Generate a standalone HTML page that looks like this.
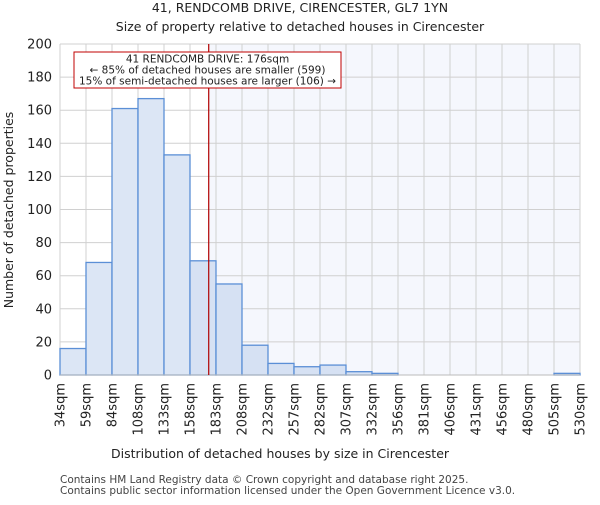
<!DOCTYPE html>
<html><head><meta charset="utf-8"><style>
body{margin:0;background:#fff;font-family:"Liberation Sans","DejaVu Sans",sans-serif;}
svg text{font-family:"DejaVu Sans","Liberation Sans",sans-serif;}
</style></head><body>
<svg id="c" width="600" height="500" xmlns="http://www.w3.org/2000/svg">
<text x="300" y="12" text-anchor="middle" font-size="12.5" fill="#222">41, RENDCOMB DRIVE, CIRENCESTER, GL7 1YN</text>
<text x="300" y="31" text-anchor="middle" font-size="12.5" fill="#222">Size of property relative to detached houses in Cirencester</text>
<g id="plot"></g>
<text x="280" y="458" text-anchor="middle" font-size="12.5" fill="#222">Distribution of detached houses by size in Cirencester</text>
<text transform="translate(13,210) rotate(-90)" text-anchor="middle" font-size="12.5" fill="#222">Number of detached properties</text>
<text x="60" y="483" font-size="10.5" fill="#444">Contains HM Land Registry data © Crown copyright and database right 2025.</text>
<text x="60" y="494" font-size="10.5" fill="#444">Contains public sector information licensed under the Open Government Licence v3.0.</text>
</svg>
<script>
const categories=["34sqm","59sqm","84sqm","108sqm","133sqm","158sqm","183sqm","208sqm","232sqm","257sqm","282sqm","307sqm","332sqm","356sqm","381sqm","406sqm","431sqm","456sqm","480sqm","505sqm","530sqm"];
const counts=[16,68,161,167,133,69,55,18,7,5,6,2,1,0,0,0,0,0,0,1];
const yTicks=[0,20,40,60,80,100,120,140,160,180,200];
const binStarts=[34,59,84,108,133,158,183,208,232,257,282,307,332,356,381,406,431,456,480,505,530];
const propertySize=176;
const x0=60,x1=580,y0=375,y1=44,ymax=200;
const bw=(x1-x0)/counts.length;
const X=i=>x0+i*bw;
const Y=v=>y0-(v/ymax)*(y0-y1);
function sizeToX(s){for(let i=0;i<binStarts.length-1;i++){if(s>=binStarts[i]&&s<=binStarts[i+1])return X(i)+(s-binStarts[i])/(binStarts[i+1]-binStarts[i])*bw;}return x1;}
const ns="http://www.w3.org/2000/svg";
const g=document.getElementById('plot');
function el(t,a){const e=document.createElementNS(ns,t);for(const k in a)e.setAttribute(k,a[k]);g.appendChild(e);return e;}
const lx=sizeToX(propertySize);
let r=el('rect',{x:lx,y:y1,width:x1-lx,height:y0-y1,fill:'#f5f7fd'});


for(let i=0;i<=counts.length;i++){let l=el('line',{x1:X(i),x2:X(i),y1:y1,y2:y0,stroke:'#d0d0d0','stroke-width':1});

}
yTicks.forEach(v=>{let l=el('line',{x1:x0,x2:x1,y1:Y(v),y2:Y(v),stroke:'#d0d0d0','stroke-width':1});


let t=el('text',{x:x0-8,y:Y(v)+4.5,'text-anchor':'end','font-size':13,fill:'#222'});t.textContent=v;

});
counts.forEach((c,i)=>{if(c<=0)return;let b=el('rect',{x:X(i),y:Y(c),width:bw,height:y0-Y(c),fill:X(i)+bw<=lx?'#dce6f5':'#d6e1f3',stroke:'#5b8fd6','stroke-width':1.3});

});
categories.forEach((c,i)=>{let t=el('text',{transform:`translate(${X(i)+4.5},${y0+8}) rotate(-90)`,'text-anchor':'end','font-size':13,fill:'#222'});t.textContent=c;

});
let ax=el('line',{x1:x0,x2:x1,y1:y0,y2:y0,stroke:'#bbb','stroke-width':1});


let ml=el('line',{x1:lx,x2:lx,y1:y1,y2:y0,stroke:'#b00000','stroke-width':1.2});


let box=el('rect',{x:74,y:52,width:267,height:36,fill:'#fff',stroke:'#c00000','stroke-width':1});


["41 RENDCOMB DRIVE: 176sqm","← 85% of detached houses are smaller (599)","15% of semi-detached houses are larger (106) →"].forEach((s,k)=>{let t=el('text',{x:207.5,y:62.5+k*11,'text-anchor':'middle','font-size':10.5,fill:'#222'});t.textContent=s;

});
</script>
</body></html>
